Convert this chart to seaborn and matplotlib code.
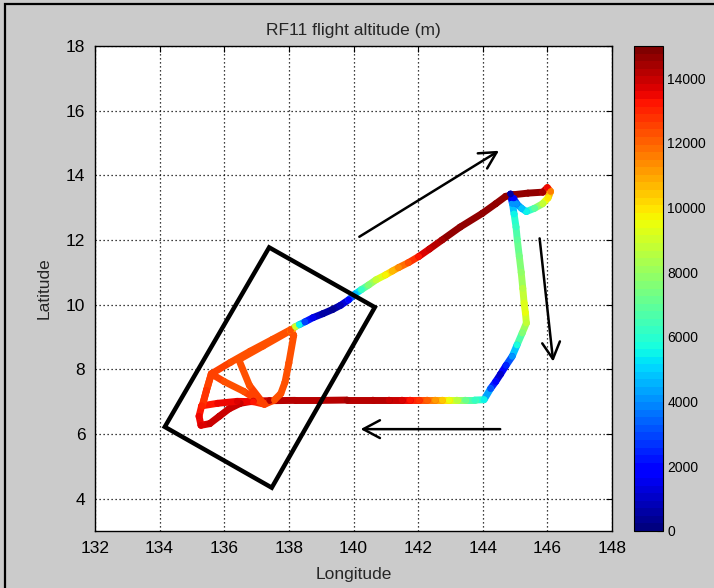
import numpy as np
import matplotlib
matplotlib.use("Agg")
import matplotlib.pyplot as plt
import seaborn as sns
from matplotlib.collections import LineCollection
from matplotlib.patches import Polygon, Rectangle
from matplotlib.colors import Normalize
from matplotlib.cm import ScalarMappable

# ---- flight track (lon, lat, altitude m), in flight order ----
lon = [144.86, 144.88, 144.92, 144.97, 145.03, 145.07, 145.13, 145.19, 145.24, 145.28,
       145.32, 145.35, 145.22, 145.06, 144.91, 144.72, 144.55, 144.40, 144.24, 144.04,
       143.75, 143.46, 143.20, 142.96, 142.75, 142.53, 142.28, 142.03, 141.75, 141.50,
       141.10, 140.60, 139.80, 139.00, 138.20, 137.40, 136.90,
       136.50, 136.15, 135.85, 135.55, 135.28,
       135.22, 135.30,
       135.80, 136.40, 136.90, 137.25,
       137.55, 137.75, 137.88, 138.00, 138.15, 138.06,
       137.50, 136.80, 136.20, 135.60,
       135.45, 135.32, 135.45, 135.60,
       136.00, 136.60, 137.22,
       136.78, 136.45,
       137.20, 138.05,
       138.20, 138.32, 138.50, 138.75, 139.05, 139.35, 139.60, 139.85, 140.05, 140.25,
       140.47, 140.70, 140.99, 141.20, 141.40, 141.70, 142.02, 142.35, 142.74, 143.30,
       143.98, 144.40, 144.71, 144.95,
       145.40, 145.86, 146.00, 146.10, 146.02, 145.85, 145.60, 145.35, 145.20, 145.05,
       144.95, 144.86]
lat = [13.42, 13.30, 13.12, 12.80, 12.40, 12.00, 11.50, 11.00, 10.50, 10.05,
       9.75, 9.43, 9.12, 8.75, 8.40, 8.12, 7.85, 7.62, 7.40, 7.06,
       7.05, 7.05, 7.05, 7.05, 7.05, 7.05, 7.05, 7.05, 7.05, 7.05,
       7.05, 7.05, 7.05, 7.04, 7.04, 7.03, 7.02,
       6.95, 6.78, 6.55, 6.32, 6.27,
       6.55, 6.87,
       6.95, 7.01, 7.00, 6.92,
       7.05, 7.25, 7.60, 8.20, 9.05, 9.23,
       8.93, 8.56, 8.22, 7.86,
       7.35, 6.87, 7.35, 7.86,
       7.62, 7.32, 6.93,
       7.50, 8.30,
       8.72, 9.20,
       9.32, 9.38, 9.47, 9.60, 9.72, 9.85, 9.98, 10.15, 10.33, 10.47,
       10.61, 10.77, 10.92, 11.04, 11.15, 11.30, 11.49, 11.72, 12.00, 12.40,
       12.82, 13.12, 13.35, 13.40,
       13.45, 13.48, 13.62, 13.50, 13.30, 13.12, 12.98, 12.88, 12.98, 13.12,
       13.30, 13.42]
alt = [600, 1500, 4000, 5500, 6300, 6900, 7400, 7900, 8500, 9200,
       9500, 8700, 7500, 5800, 4000, 2500, 1000, 1800, 3200, 5500,
       6300, 7200, 8500, 9600, 10500, 11200, 12000, 12700, 13300, 13700,
       14000, 14200, 14300, 14200, 14100, 14100, 14000,
       14000, 14000, 14000, 13900, 13700,
       13400, 13200,
       13500, 13600, 13200, 12600,
       12400, 12300, 12300, 12300, 12300, 12200,
       12300, 12300, 12400, 12500,
       12700, 13000, 12700, 12500,
       12400, 12400, 12500,
       12400, 12300,
       12300, 12200,
       9000, 5500, 3000, 1500, 700, 400, 900, 1800, 4500, 6200,
       7500, 8800, 9800, 10600, 11300, 12300, 13300, 14000, 14500, 14600,
       14600, 14600, 14600, 14600,
       14600, 14500, 13500, 11500, 10000, 8800, 7000, 5500, 4800, 4000,
       2000, 600]

# ---- annotation shapes ----
box_lon = [137.39, 140.66, 137.47, 134.16]
box_lat = [11.77, 9.92, 4.34, 6.22]
arrow_start_lon = [140.18, 145.76, 144.54]
arrow_start_lat = [12.10, 12.05, 6.15]
arrow_end_lon = [144.50, 146.18, 140.22]
arrow_end_lat = [14.76, 8.24, 6.15]

x_ticks = [132, 134, 136, 138, 140, 142, 144, 146, 148]
y_ticks = [4, 6, 8, 10, 12, 14, 16, 18]
cbar_ticks = [0, 2000, 4000, 6000, 8000, 10000, 12000, 14000]

sns.set_style("white")
plt.rcParams['font.family'] = ['Liberation Sans', 'DejaVu Sans']

W, H = 714, 588
bg = '#cbcbcb'
fig = plt.figure(figsize=(W / 100, H / 100), dpi=100, facecolor=bg)
ax = fig.add_axes([95 / W, 57 / H, 517 / W, 485 / H])
cax = fig.add_axes([634 / W, 57 / H, 29 / W, 485 / H])

cmap = plt.get_cmap('jet', 64)
norm = Normalize(0, 15000)

lon_a = np.asarray(lon); lat_a = np.asarray(lat); alt_a = np.asarray(alt, dtype=float)
pts = np.column_stack([lon_a, lat_a])
segs = np.stack([pts[:-1], pts[1:]], axis=1)
vals = (alt_a[:-1] + alt_a[1:]) / 2
lc = LineCollection(segs, cmap=cmap, norm=norm, linewidths=5,
                    capstyle='round', joinstyle='round', zorder=3)
lc.set_array(vals)
ax.add_collection(lc)
sns.scatterplot(x=lon_a, y=lat_a, hue=alt_a, hue_norm=norm, palette=cmap,
                s=22, linewidth=0, legend=False, ax=ax, zorder=4)

ax.add_patch(Polygon(np.column_stack([box_lon, box_lat]), closed=True, fill=False,
                     ec='black', lw=3.2, joinstyle='miter', zorder=5))
for x0, y0, x1, y1 in zip(arrow_start_lon, arrow_start_lat, arrow_end_lon, arrow_end_lat):
    ax.annotate('', xy=(x1, y1), xytext=(x0, y0),
                arrowprops=dict(arrowstyle='->,head_length=0.6,head_width=0.32',
                                lw=1.8, color='black', shrinkA=0, shrinkB=0,
                                mutation_scale=20), zorder=6)

ax.set_xlim(132, 148)
ax.set_ylim(3, 18)
ax.set_xticks(x_ticks)
ax.set_yticks(y_ticks)
ax.set_facecolor('white')
ax.set_axisbelow(True)
ax.grid(True, color='black', linestyle=(0, (1, 2.2)), lw=0.9)
for s in ax.spines.values():
    s.set_color('black'); s.set_linewidth(1.0); s.set_visible(True)
ax.tick_params(direction='in', top=True, right=True, length=4, width=0.8,
               labelsize=12.5, pad=7, colors='black')
ax.set_title('RF11 flight altitude (m)', fontsize=12.5, pad=8)
ax.set_xlabel('Longitude', fontsize=12.5, labelpad=8)
ax.set_ylabel('Latitude', fontsize=12.5, labelpad=10)

cb = fig.colorbar(ScalarMappable(norm=norm, cmap=cmap), cax=cax, ticks=cbar_ticks)
cb.outline.set_edgecolor('black')
cb.outline.set_linewidth(0.8)
cax.tick_params(direction='in', left=True, right=True, length=4, width=0.8,
                labelsize=10, pad=3, colors='black')

fig.add_artist(Rectangle((5 / W, -0.05), 1.1, 1 - 4 / H + 0.05, transform=fig.transFigure,
                         fill=False, ec='black', lw=1.6))

fig.savefig('out.png', dpi=100, facecolor=bg)
